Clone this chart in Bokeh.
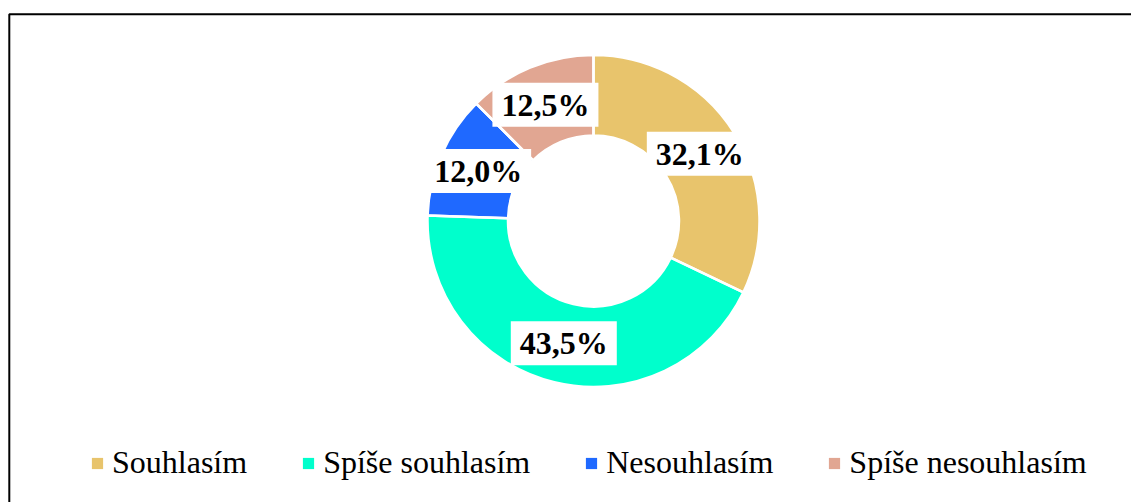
import math
from bokeh.plotting import figure
from bokeh.models import ColumnDataSource, Legend, LegendItem
from bokeh.core.properties import value
from bokeh.embed import file_html
from bokeh.resources import INLINE

# ---- data ----
categories = ["Souhlasím", "Spíše souhlasím", "Nesouhlasím", "Spíše nesouhlasím"]
values = [32.1, 43.5, 12.0, 12.5]
colors = ["#E8C46C", "#00FFCC", "#1F69FF", "#E1A692"]

# ---- layout constants (pixels) ----
W, H = 1131, 502
CX, CY = 593, 281.5
R_OUT, R_IN = 166, 85.5
R_LAB = (R_OUT + R_IN) / 2

total = sum(values)
starts, ends, lx, ly, labels = [], [], [], [], []
cum = 0.0
for v in values:
    f0 = cum / total
    f1 = (cum + v) / total
    cum += v
    # clockwise from 12 o'clock
    starts.append(math.radians(90 - f1 * 360))
    ends.append(math.radians(90 - f0 * 360))
    fm = (f0 + f1) / 2
    a = math.radians(90 - fm * 360)
    lx.append(CX + R_LAB * math.cos(a))
    ly.append(CY + R_LAB * math.sin(a))
    labels.append(f"{v:.1f}".replace(".", ",") + "%")

src = ColumnDataSource(dict(cat=categories, val=values, color=colors,
                            start=starts, end=ends, lx=lx, ly=ly, lab=labels))

p = figure(width=W, height=H, x_range=(0, W), y_range=(0, H),
           x_axis_type=None, y_axis_type=None, output_backend="svg",
           toolbar_location=None, min_border=0)
p.outline_line_color = None
p.background_fill_color = "white"
p.border_fill_color = "white"

# outer frame (only top & left visible in the window)
p.line(x=[8.8, 8.8, W + 100], y=[-50, 488.3, 488.3], line_color="black", line_width=2)

r_fill = p.annular_wedge(x=CX, y=CY, inner_radius=R_IN, outer_radius=R_OUT,
                         start_angle="start", end_angle="end", fill_color="color",
                         line_color=None, source=src)
p.annular_wedge(x=CX, y=CY, inner_radius=R_IN, outer_radius=R_OUT,
                start_angle="start", end_angle="end", fill_alpha=0,
                line_color="white", line_width=2.5, source=src)

p.rect(x="lx", y="ly", width=106, height=44, width_units="screen",
       height_units="screen", fill_color="white", line_color=None, source=src)
p.text(x="lx", y="ly", text="lab", source=src, text_font=value("Liberation Serif"),
       text_font_style="bold", text_font_size="32px", text_color="black",
       text_align="center", text_baseline="middle")

items = [LegendItem(label=c, renderers=[r_fill], index=i) for i, c in enumerate(categories)]
legend = Legend(items=items, orientation="horizontal", location=(90, 21),
                glyph_width=14, glyph_height=14, label_standoff=8, spacing=54,
                padding=0, margin=0, border_line_color=None, background_fill_alpha=0,
                label_text_font="Liberation Serif", label_text_font_size="32px",
                label_text_color="black")
p.add_layout(legend, "center")

open("out.html", "w").write(file_html(p, INLINE))
